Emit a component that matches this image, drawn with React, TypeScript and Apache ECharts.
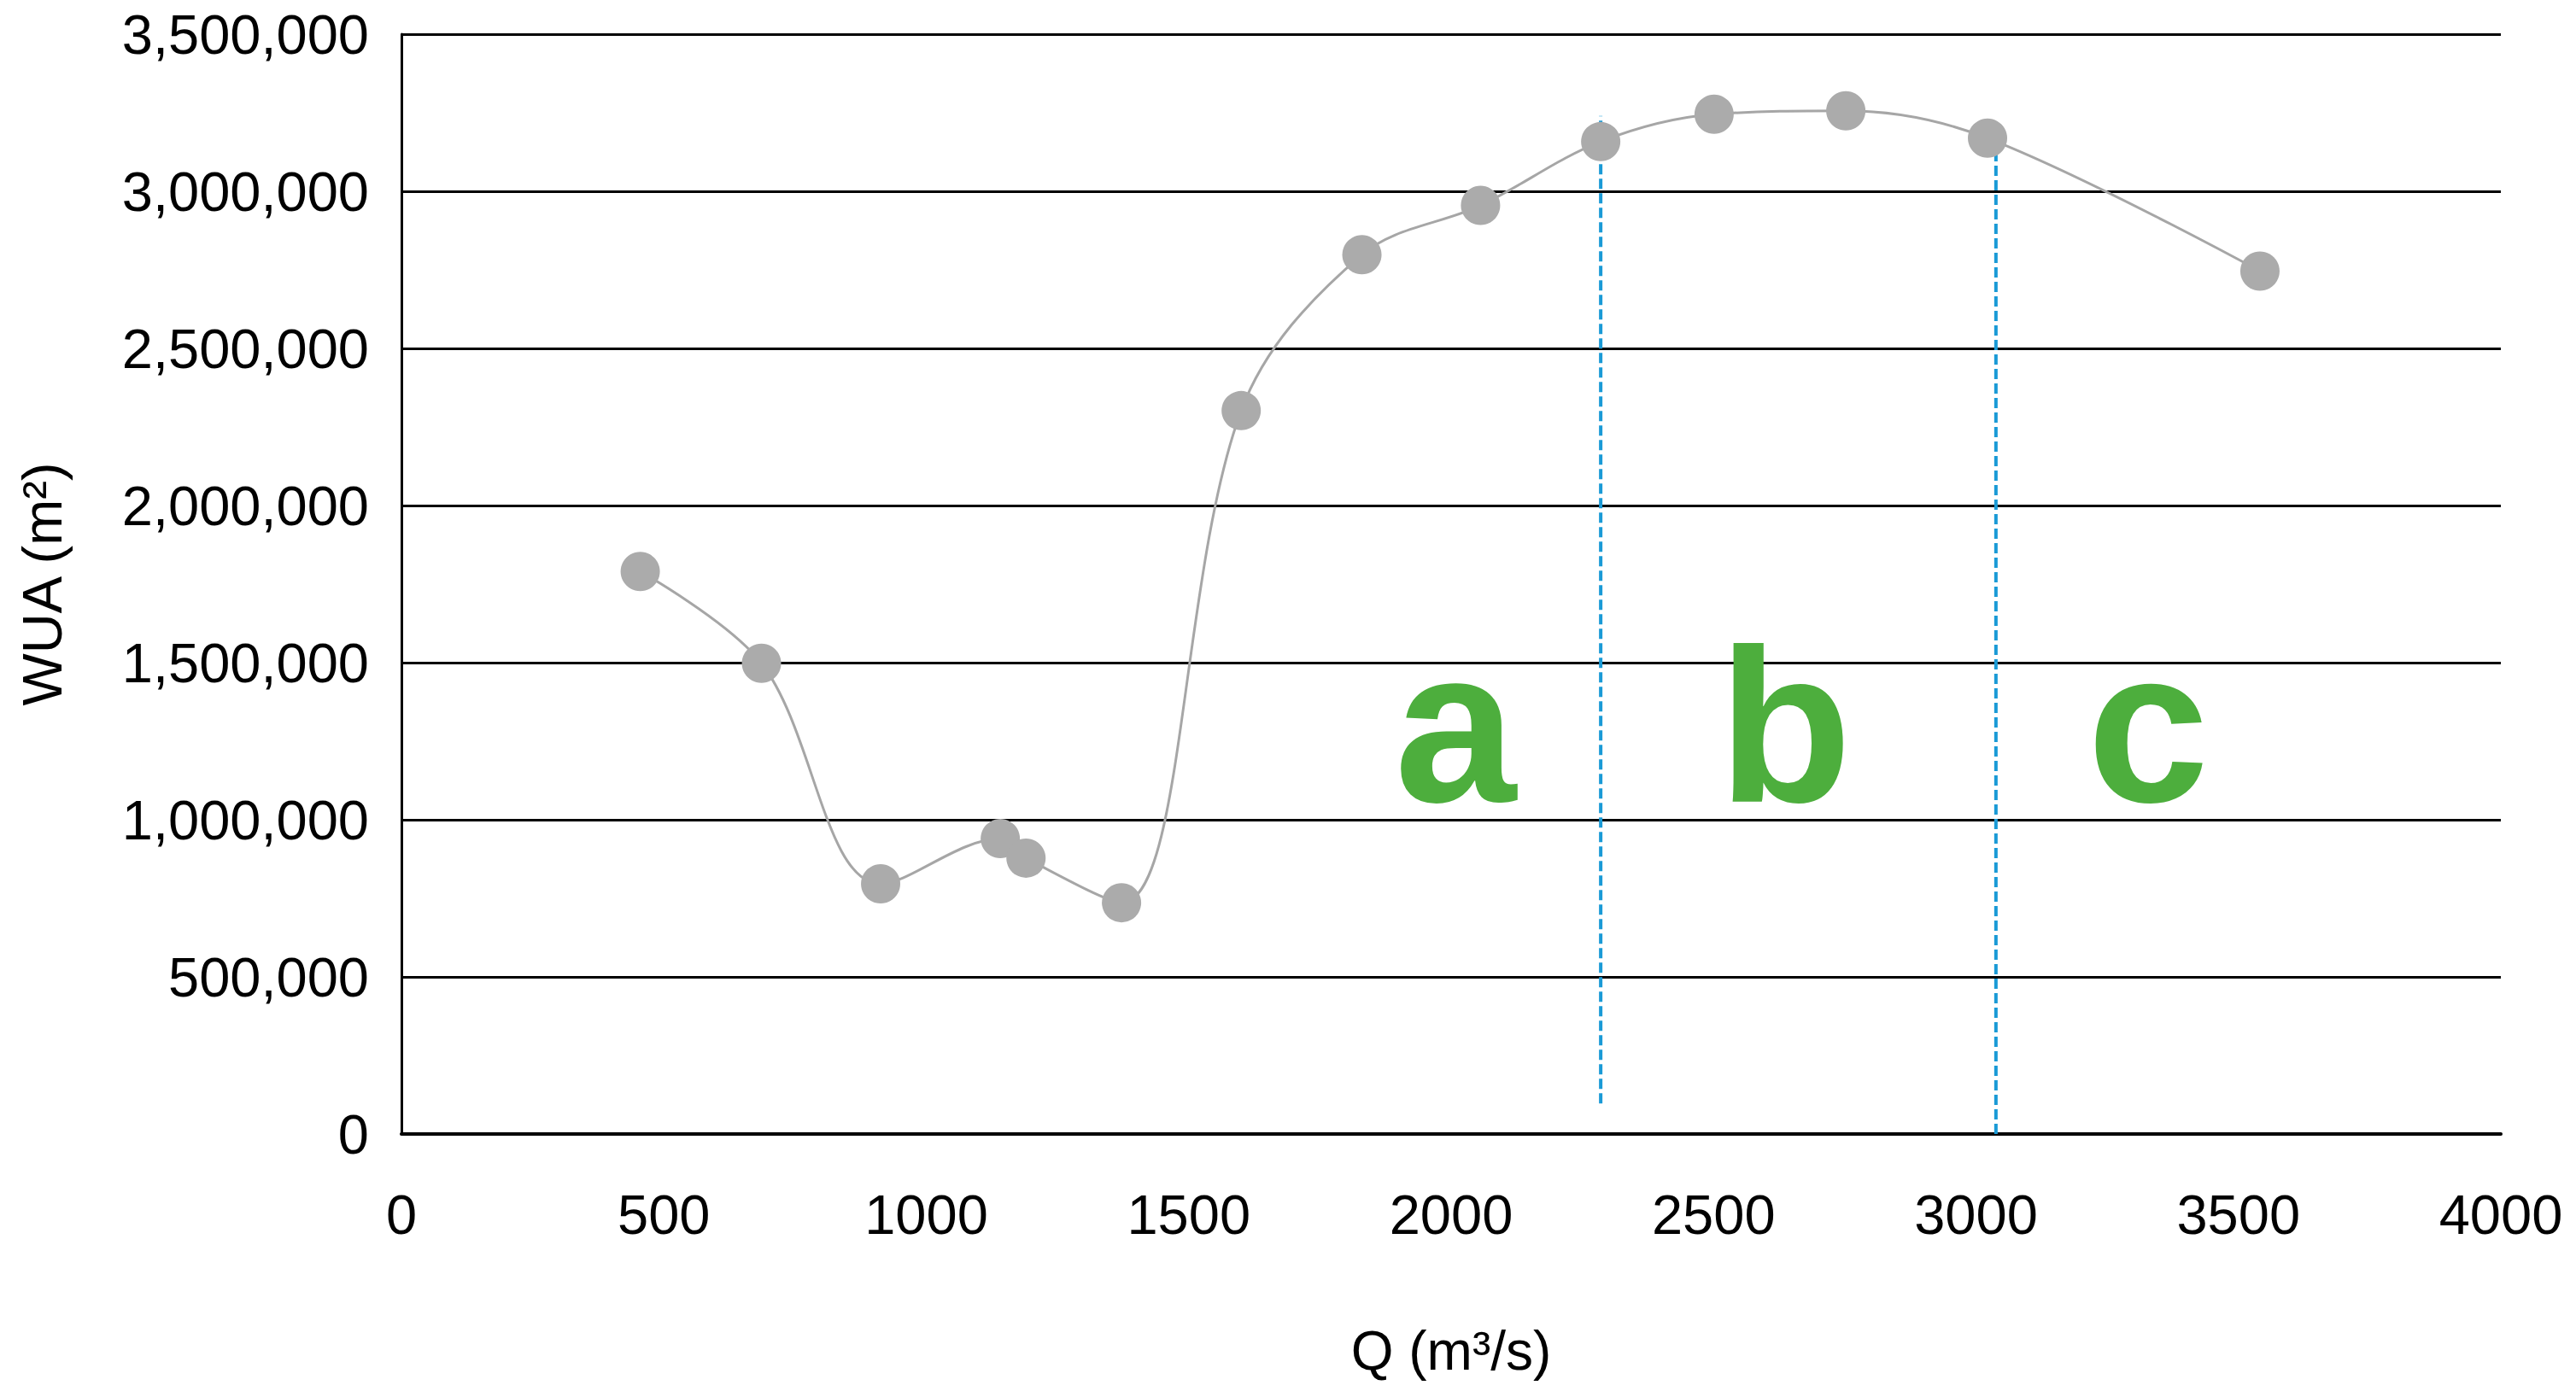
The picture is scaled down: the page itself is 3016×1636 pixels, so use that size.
import React, { useEffect, useRef } from "react";
import * as echarts from "echarts";

const flowQ = [455, 686, 913, 1141, 1190, 1372, 1600, 1830, 2056, 2285, 2501, 2752, 3022, 3541];
const wua = [1790000, 1498000, 796000, 940000, 878000, 736000, 2302000, 2798000, 2955000, 3158000, 3245000, 3256000, 3169000, 2746000];

const xTicks = { min: 0, max: 4000, interval: 500 };
const yTicks = { min: 0, max: 3500000, interval: 500000 };

const divider1Q = [2285, 2285];
const divider1Y = [97000, 3240000];
const divider2Q = [3038, 3038];
const divider2Y = [0, 3150000];

const zoneLetters = ["a", "b", "c"];
const zoneQ = [2008, 2636, 3328];
const zoneY = [1300000, 1300000, 1300000];

const FONT = "'Liberation Sans', Arial, Helvetica, sans-serif";

export default function App() {
  const ref = useRef<HTMLDivElement>(null);
  useEffect(() => {
    document.body.style.margin = "0";
    if (!ref.current) return;
    const chart = echarts.init(ref.current, null, { renderer: "svg" });
    const pairs = (xs: number[], ys: number[]) => xs.map((x, i) => [x, ys[i]]);
    chart.setOption({
      animation: false,
      backgroundColor: "#ffffff",
      grid: { left: 470, right: 88, top: 40, bottom: 308, containLabel: false },
      xAxis: {
        type: "value",
        min: xTicks.min,
        max: xTicks.max,
        interval: xTicks.interval,
        name: "Q (m³/s)",
        nameLocation: "middle",
        nameGap: 222,
        nameTextStyle: { fontFamily: FONT, fontSize: 64, color: "#000" },
        axisLine: { show: true, onZero: false, lineStyle: { color: "#000", width: 4 } },
        axisTick: { show: false },
        splitLine: { show: false },
        axisLabel: {
          fontFamily: FONT,
          fontSize: 65,
          color: "#000",
          margin: 62,
          formatter: (v: number) => String(v),
        },
      },
      yAxis: {
        type: "value",
        min: yTicks.min,
        max: yTicks.max,
        interval: yTicks.interval,
        name: "WUA (m²)",
        nameLocation: "middle",
        nameRotate: 90,
        nameGap: 388,
        nameTextStyle: { fontFamily: FONT, fontSize: 65, color: "#000" },
        axisLine: { show: true, lineStyle: { color: "#000", width: 3 } },
        axisTick: { show: false },
        splitLine: { show: true, lineStyle: { color: "#000", width: 3 } },
        axisLabel: {
          fontFamily: FONT,
          fontSize: 65,
          color: "#000",
          margin: 38,
          formatter: (v: number) => v.toLocaleString("en-US"),
        },
      },
      series: [
        {
          type: "line",
          data: pairs(divider1Q, divider1Y),
          symbol: "none",
          lineStyle: { color: "#1a9ad6", width: 4, type: [12, 5] },
          z: 3,
        },
        {
          type: "line",
          data: pairs(divider2Q, divider2Y),
          symbol: "none",
          lineStyle: { color: "#1a9ad6", width: 4, type: [12, 5] },
          z: 3,
        },
        {
          type: "line",
          data: pairs(flowQ, wua),
          smooth: 0.35,
          symbol: "circle",
          symbolSize: 46,
          itemStyle: { color: "#ababab" },
          lineStyle: { color: "#a6a6a6", width: 3 },
          z: 4,
        },
        {
          type: "scatter",
          data: zoneLetters.map((l, i) => ({ value: [zoneQ[i], zoneY[i]], name: l })),
          symbolSize: 1,
          itemStyle: { color: "rgba(0,0,0,0)", opacity: 1 },
          label: {
            show: true,
            position: "inside",
            formatter: (p: any) => p.name,
            fontFamily: FONT,
            fontWeight: "bold",
            fontSize: 256,
            color: "#4dae3d",
            opacity: 1,
            align: "center",
            verticalAlign: "middle",
          },
          z: 5,
        },
      ],
    });
    return () => chart.dispose();
  }, []);
  return <div ref={ref} style={{ width: 3016, height: 1636 }} />;
}
